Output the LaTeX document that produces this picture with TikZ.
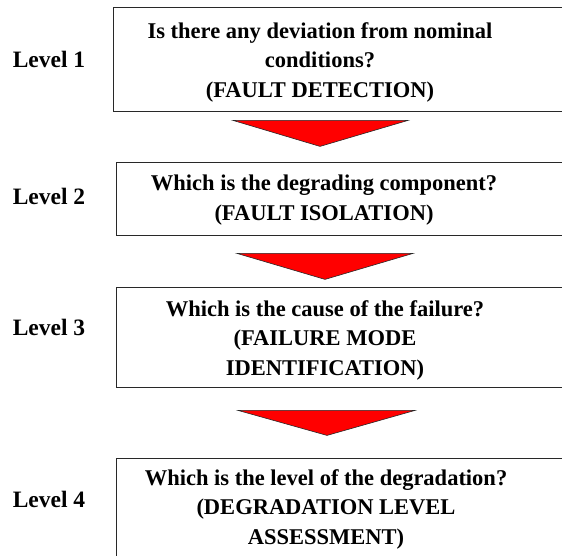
\documentclass[tikz,border=0pt]{standalone}
\usepackage{fontspec}
\setmainfont{Liberation Serif}
\usepackage{tikz}
\usetikzlibrary{calc}
\definecolor{arrowred}{RGB}{255,0,0}
\definecolor{edgecol}{RGB}{40,40,40}
\tikzset{
  % level label on the left
  lvlabel/.style={font=\fontsize{23.5}{29}\selectfont\bfseries, inner sep=0pt},
  % question box area (runs off the page on the right)
  qbox/.style={minimum width=520pt, anchor=north west, inner sep=0pt},
  % open frame of a question box
  boxline/.style={draw=edgecol, line width=0.9pt},
  % question text
  qtext/.style={font=\fontsize{22.5}{29.5}\selectfont\bfseries, align=center, inner sep=0pt},
  % red down arrow between levels
  downtri/.style={fill=arrowred, draw=edgecol, line width=0.6pt, line join=miter},
}
\begin{document}
\begin{tikzpicture}[x=1pt,y=-1pt]
  \useasboundingbox (0,0) rectangle (562,556);
  \clip (0,0) rectangle (562,556);

  % Level 1
  \node[lvlabel] (l1) at (49,59) {Level 1};
  \node[qbox, minimum height=104pt] (b1) at (113,7) {};
  \node[qtext] (q1) at (320,62) {Is there any deviation from nominal\\conditions?\\(FAULT DETECTION)};

  % Level 2
  \node[lvlabel] (l2) at (49,196) {Level 2};
  \node[qbox, minimum height=73pt] (b2) at (116,162) {};
  \node[qtext] (q2) at (324,200) {Which is the degrading component?\\(FAULT ISOLATION)};

  % Level 3
  \node[lvlabel] (l3) at (49,327) {Level 3};
  \node[qbox, minimum height=100pt] (b3) at (116,287) {};
  \node[qtext] (q3) at (325,340) {Which is the cause of the failure?\\(FAILURE MODE\\IDENTIFICATION)};

  % Level 4
  \node[lvlabel] (l4) at (49,499) {Level 4};
  \node[qbox, minimum height=120pt] (b4) at (116,458) {};
  \node[qtext] (q4) at (326,509) {Which is the level of the degradation?\\(DEGRADATION LEVEL\\ASSESSMENT)};

  % frames
  \foreach \b in {b1,b2,b3,b4}
    \draw[boxline] (\b.north east) -- (\b.north west) -- (\b.south west) -- (\b.south east);

  % arrows between the boxes
  \draw[downtri] ($(b1.south west)+(120,9)$) -- ($(b1.south west)+(295,9)$) -- ($(b1.south west)+(207,35)$) -- cycle;
  \draw[downtri] ($(b2.south west)+(121,18)$) -- ($(b2.south west)+(297,18)$) -- ($(b2.south west)+(209,44)$) -- cycle;
  \draw[downtri] ($(b3.south west)+(122,23)$) -- ($(b3.south west)+(299,23)$) -- ($(b3.south west)+(211,48)$) -- cycle;
\end{tikzpicture}
\end{document}
